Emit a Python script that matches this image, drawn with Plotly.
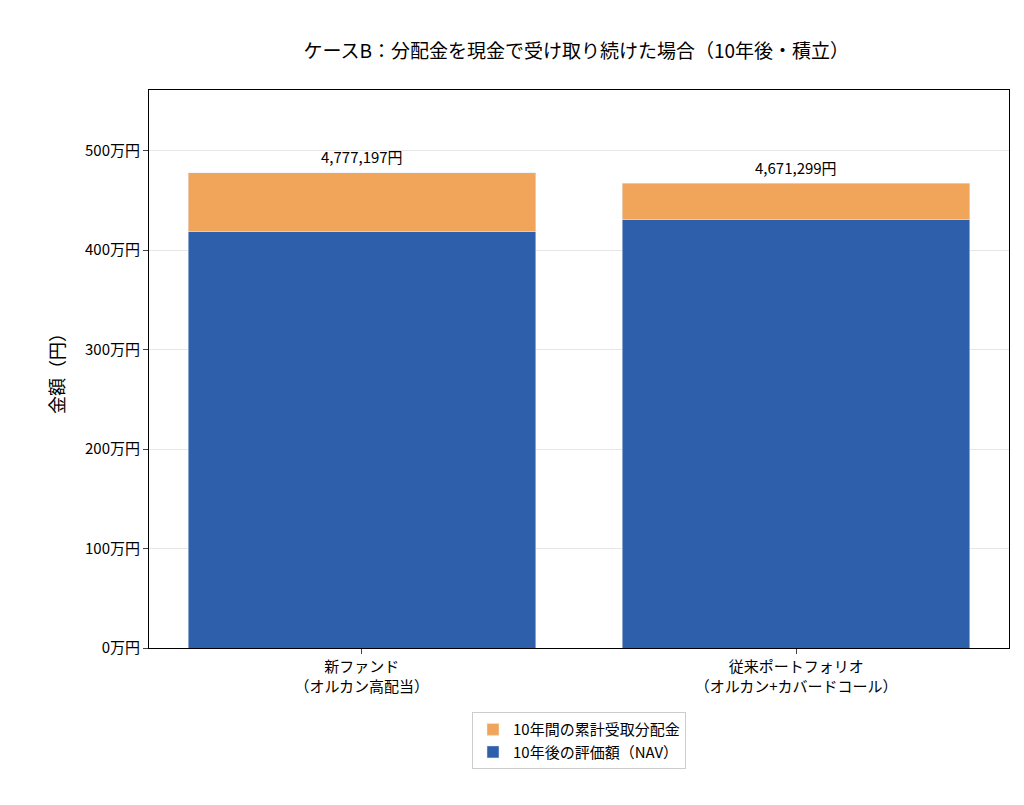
import plotly.graph_objects as go

categories = ["新ファンド<br>（オルカン高配当）", "従来ポートフォリオ<br>（オルカン+カバードコール）"]
nav = [4185000, 4306000]
dividends = [592197, 365299]
totals = [4777197, 4671299]
tick_vals = [0, 1000000, 2000000, 3000000, 4000000, 5000000]
tick_text = ["0万円", "100万円", "200万円", "300万円", "400万円", "500万円"]

font = "Noto Sans CJK JP"
fig = go.Figure()
fig.add_trace(go.Bar(x=[0, 1], y=nav, name="10年後の評価額（NAV）",
                     marker_color="#2E5FAA", width=0.8))
fig.add_trace(go.Bar(x=[0, 1], y=dividends, name="10年間の累計受取分配金",
                     marker_color="#F0A55A", width=0.8))
for i, t in enumerate(totals):
    fig.add_annotation(x=i, y=t, text=f"{t:,}円", showarrow=False,
                       yshift=16, font=dict(size=15, color="black"))

fig.update_layout(
    barmode="stack",
    width=1024, height=805,
    paper_bgcolor="white", plot_bgcolor="white",
    font=dict(family=font, size=15, color="black"),
    title=dict(text="ケースB：分配金を現金で受け取り続けた場合（10年後・積立）",
               x=0.555, xanchor="center", y=0.955, font=dict(size=19)),
    margin=dict(l=141, r=23, t=82, b=165),
    legend=dict(orientation="v", x=0.5, xanchor="center", y=-0.115, yanchor="top",
                bordercolor="#cccccc", borderwidth=1, font=dict(size=15)),
    bargap=0.2,
)
fig.update_xaxes(tickvals=[0, 1], ticktext=categories, range=[-0.49, 1.49],
                 showline=True, linecolor="black", mirror=True, ticks="outside")
fig.update_yaxes(tickvals=tick_vals, ticktext=tick_text, range=[0, 5610000],
                 title_text="金額（円）", showgrid=True, gridcolor="#e6e6e6",
                 showline=True, linecolor="black", mirror=True, ticks="outside",
                 zeroline=False)
fig.write_html("out.html")
